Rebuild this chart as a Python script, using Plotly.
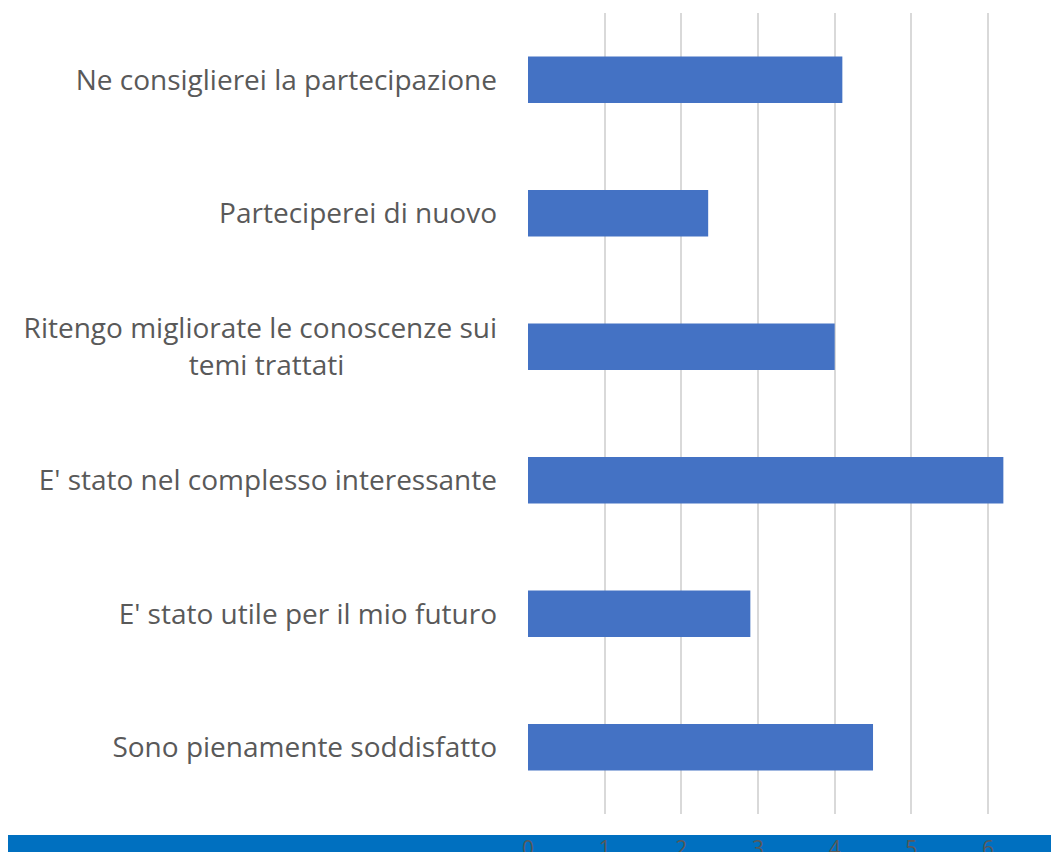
import plotly.graph_objects as go

# categories listed bottom to top (plotly draws first category at bottom)
categories = [
    "Sono pienamente soddisfatto",
    "E' stato utile per il mio futuro",
    "E' stato nel complesso interessante",
    "Ritengo migliorate le conoscenze sui<br>temi trattati" + "\u00a0" * 21,
    "Parteciperei di nuovo",
    "Ne consiglierei la partecipazione",
]
values = [4.5, 2.9, 6.2, 4.0, 2.35, 4.1]
x_ticks = [0, 1, 2, 3, 4, 5, 6]

fig = go.Figure()

fig.add_trace(go.Bar(
    x=values, y=categories, orientation='h',
    marker=dict(color='#4472C4', line=dict(width=0)),
    hoverinfo='skip',
))

# blue band along the bottom edge
fig.add_shape(type='rect', xref='paper', yref='paper',
              x0=-1.2, x1=1.2, y0=-0.0262, y1=-0.08,
              fillcolor='#0070C0', line=dict(width=0), layer='below')

# the page adds an 8px body margin, so offsets are reduced by 8
fig.update_layout(
    width=1059, height=852,
    margin=dict(l=520, r=0, t=5, b=46),
    paper_bgcolor='white', plot_bgcolor='white',
    bargap=0.65,
    showlegend=False,
    font=dict(family='Open Sans', color='#595959'),
    xaxis=dict(
        range=[0, 7.03], tickvals=x_ticks, showgrid=True,
        gridcolor='#D9D9D9', gridwidth=2, zeroline=False,
        showline=False, ticks='', tickfont=dict(size=21, color='#595959'),
        ticklabelstandoff=20, automargin=False,
    ),
    yaxis=dict(
        showgrid=False, zeroline=False, showline=False, ticks='',
        tickfont=dict(size=28, color='#595959'),
        ticklabelstandoff=30, automargin=False,
    ),
)

fig.write_html("out.html")
